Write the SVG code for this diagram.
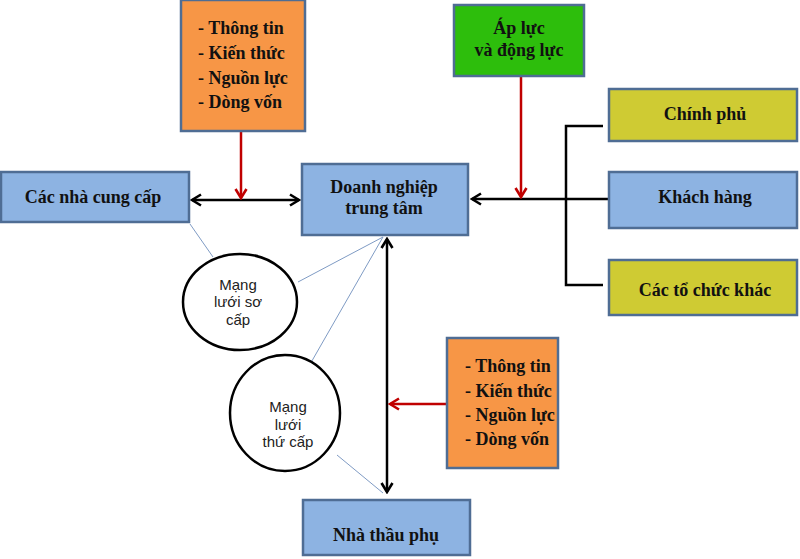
<svg xmlns="http://www.w3.org/2000/svg" width="800" height="559" viewBox="0 0 800 559">
<defs>
<marker id="ab" viewBox="0 0 14 14" refX="12" refY="7" markerWidth="14" markerHeight="14" markerUnits="userSpaceOnUse" orient="auto-start-reverse">
<path d="M3,1.5 L12,7 L3,12.5" fill="none" stroke="#000" stroke-width="2.6"/>
</marker>
<marker id="ar" viewBox="0 0 14 14" refX="12" refY="7" markerWidth="14" markerHeight="14" markerUnits="userSpaceOnUse" orient="auto">
<path d="M3,1.5 L12,7 L3,12.5" fill="none" stroke="#C00000" stroke-width="2.6"/>
</marker>
</defs>
<style>
.box{stroke:#4F6D94;stroke-width:2.5}
.blue{fill:#8DB3E2}
.orange{fill:#F79646}
.green{fill:#2DBE0C}
.olive{fill:#CFCB33}
.t{font-family:"Liberation Serif","Times New Roman",serif;font-weight:bold;font-size:18px;fill:#111}
.c{text-anchor:middle}
.e{fill:#fff;stroke:#000;stroke-width:2.5}
.et{font-family:"Liberation Sans",Arial,sans-serif;font-size:15px;fill:#222;text-anchor:middle}
.blk{stroke:#000;stroke-width:2.5;fill:none}
.red{stroke:#C00000;stroke-width:2.5;fill:none}
.thin{stroke:#7F9BC4;stroke-width:1;fill:none}
</style>
<rect width="800" height="559" fill="#fff"/>
<g id="connectors">
<line class="thin" x1="190" y1="224" x2="213" y2="257"/>
<line class="thin" x1="383" y1="237" x2="298" y2="282"/>
<line class="thin" x1="383" y1="237" x2="305" y2="373"/>
<line class="thin" x1="337" y1="455" x2="383" y2="493"/>
<line class="blk" x1="192" y1="200" x2="299" y2="200" marker-start="url(#ab)" marker-end="url(#ab)"/>
<line class="red" x1="241" y1="132" x2="241" y2="198" marker-end="url(#ar)"/>
<line class="blk" x1="609" y1="199" x2="472" y2="199" marker-end="url(#ab)"/>
<line class="red" x1="521" y1="76" x2="521" y2="197" marker-end="url(#ar)"/>
<polyline class="blk" points="603,126 566,126 566,285 603,285"/>
<line class="blk" x1="387" y1="239" x2="387" y2="492" marker-start="url(#ab)" marker-end="url(#ab)"/>
<line class="red" x1="447" y1="404" x2="390" y2="404" marker-end="url(#ar)"/>
</g>
<g id="info-top">
<rect class="box orange" x="181" y="0" width="124" height="131"/>
<text class="t" x="198" y="34">- Thông tin</text>
<text class="t" x="198" y="59">- Kiến thức</text>
<text class="t" x="198" y="84">- Nguồn lực</text>
<text class="t" x="198" y="108">- Dòng vốn</text>
</g>
<g id="suppliers">
<rect class="box blue" x="1" y="172" width="188" height="50"/>
<text class="t c" x="93" y="203">Các nhà cung cấp</text>
</g>
<g id="focal">
<rect class="box blue" x="302" y="164" width="166" height="71"/>
<text class="t c" x="384" y="193">Doanh nghiệp</text>
<text class="t c" x="384" y="214">trung tâm</text>
</g>
<g id="pressure">
<rect class="box green" x="454" y="5" width="130" height="71"/>
<text class="t c" x="519" y="34">Áp lực</text>
<text class="t c" x="519" y="56">và động lực</text>
</g>
<g id="government">
<rect class="box olive" x="609" y="89" width="188" height="52"/>
<text class="t c" x="705" y="120">Chính phủ</text>
</g>
<g id="customers">
<rect class="box blue" x="609" y="172" width="188" height="56"/>
<text class="t c" x="705" y="203">Khách hàng</text>
</g>
<g id="others">
<rect class="box olive" x="609" y="260" width="188" height="55"/>
<text class="t c" x="705" y="296">Các tổ chức khác</text>
</g>
<g id="primary-network">
<ellipse class="e" cx="240" cy="302" rx="57" ry="48"/>
<text class="et" x="238" y="290">Mạng</text>
<text class="et" x="238" y="307">lưới sơ</text>
<text class="et" x="238" y="325">cấp</text>
</g>
<g id="secondary-network">
<ellipse class="e" cx="285" cy="413" rx="55" ry="58"/>
<text class="et" x="288" y="412">Mạng</text>
<text class="et" x="288" y="430">lưới</text>
<text class="et" x="288" y="447">thứ cấp</text>
</g>
<g id="info-bottom">
<rect class="box orange" x="447" y="338" width="111" height="130"/>
<text class="t" x="465" y="372">- Thông tin</text>
<text class="t" x="465" y="397">- Kiến thức</text>
<text class="t" x="465" y="421">- Nguồn lực</text>
<text class="t" x="465" y="445">- Dòng vốn</text>
</g>
<g id="subcontractor">
<rect class="box blue" x="303" y="500" width="167" height="55"/>
<text class="t c" x="386" y="541">Nhà thầu phụ</text>
</g>
</svg>
